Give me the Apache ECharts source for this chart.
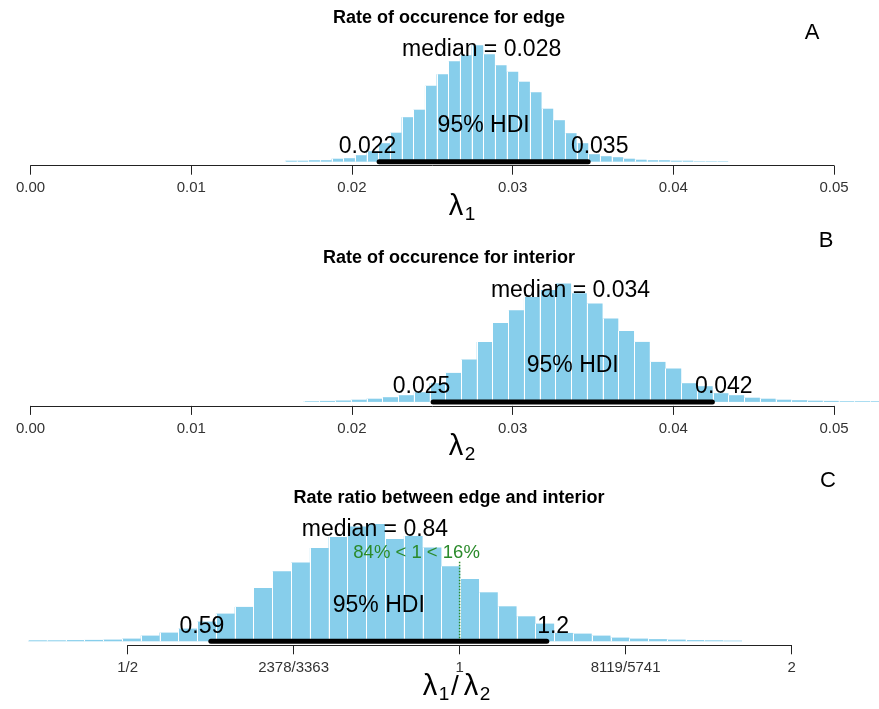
<!DOCTYPE html>
<html>
<head>
<meta charset="utf-8">
<script src="https://cdn.jsdelivr.net/npm/echarts/dist/echarts.min.js"></script>
<style>
  html, body { margin: 0; padding: 0; background: #fff; }
  #chart { width: 879px; height: 709px; }
</style>
</head>
<body>
<div id="chart"></div>
<script>
// ---- Posterior of the occurrence rate at the edge (lambda 1) ----
const edgeBinStart = 0.015828;
const edgeBinWidth = 0.000726;
const edgeHeights = [1, 1, 1.5, 1.5, 3, 3.5, 6.5, 10.5, 18.5, 29, 44.5, 52, 76, 87.5, 100.5, 106.5,
  116.5, 107.5, 96.5, 90, 80, 69.5, 53, 41.5, 28.5, 18.5, 7.5, 5.5, 4.5, 3, 2, 1.5, 1.5, 1, 1, 0.5, 0.5, 0.5];
const edgeMedian = 0.02807;
const edgeHdi = [0.02169, 0.0347];

// ---- Posterior of the occurrence rate in the interior (lambda 2) ----
const interiorBinStart = 0.016996;
const interiorBinWidth = 0.000979;
const interiorHeights = [0.7, 1, 1.4, 2.2, 3.2, 4.7, 6.7, 9.7, 18.7, 29, 42.4, 60, 79, 91.7, 105, 112,
  118.4, 108.7, 98.4, 83.4, 71, 60, 40, 33.4, 18.7, 15.7, 8.7, 6.7, 4.2, 3.2, 2.2, 1.7, 1.2, 1, 0.7, 0.7, 0.7];
const interiorMedian = 0.0336;
const interiorHdi = [0.02505, 0.04243];

// ---- Posterior of the rate ratio lambda1 / lambda2 (bins on a log2 scale) ----
const ratioBinStartLog2 = -1.3;
const ratioBinWidthLog2 = 0.0566;
const ratioHeights = [1, 1, 1.2, 1.4, 1.7, 2.7, 5.7, 8.7, 12.7, 19.7, 27.7, 34.4, 53.4, 70, 78.7, 93.2,
  104.4, 114.7, 117.2, 102.4, 105.2, 93.7, 75, 62.4, 49, 35, 25, 17.7, 8.4, 7.7, 5.7, 3.7, 2.7, 2.2, 1.7, 1.2, 1, 0.7];
const ratioMedian = 0.838;
const ratioHdi = [0.5949, 1.1996];
const ratioCompValue = 1;
const ratioPctBelow = 84;

// ---- Axes and labels ----
const rateTicks = [0, 0.01, 0.02, 0.03, 0.04, 0.05];
const ratioTicks = [0.5, 0.70711, 1, 1.41421, 2];
const ratioTickLabels = ['1/2', '2378/3363', '1', '8119/5741', '2'];
const panelTitles = ['Rate of occurence for edge', 'Rate of occurence for interior', 'Rate ratio between edge and interior'];
const panelLetters = ['A', 'B', 'C'];

const FONT = '"Liberation Sans", Arial, Helvetica, sans-serif';
const BAR_COLOR = '#87CEEB';
const COMP_COLOR = '#2a8a2a';

// text heights above the histogram baseline (y units)
const MEDIAN_Y = 111.7, HDI_TEXT_Y = 35.8, HDI_VAL_Y = 15, COMP_TEXT_Y = 88.5, COMP_LINE_TOP = 80;

const measureCtx = document.createElement('canvas').getContext('2d');
function textWidth(text, font) { measureCtx.font = font; return measureCtx.measureText(text).width; }
function sig2(v) { return String(Number(v.toPrecision(2))); }

function histSeries(idx, start, width, heights) {
  return {
    type: 'custom', xAxisIndex: idx, yAxisIndex: idx, z: 1, silent: true, clip: false,
    encode: { x: [0, 1], y: 2 },
    data: heights.map((h, i) => [start + i * width, start + (i + 1) * width, h]),
    renderItem: (params, api) => {
      const p0 = api.coord([api.value(0), 0]);
      const p1 = api.coord([api.value(1), api.value(2)]);
      const xl = Math.round(p0[0]) + 0.5;
      return {
        type: 'group',
        children: [
          { type: 'rect', shape: { x: p0[0], y: p1[1], width: p1[0] - p0[0], height: p0[1] - p1[1] },
            style: { fill: BAR_COLOR } },
          { type: 'line', shape: { x1: xl, y1: p0[1], x2: xl, y2: p1[1] },
            style: { stroke: '#ffffff', lineWidth: 1 } }
        ]
      };
    }
  };
}

function hdiSeries(idx, lo, hi) {
  return {
    type: 'line', xAxisIndex: idx, yAxisIndex: idx, z: 5, silent: true, symbol: 'none',
    data: [[lo, 0], [hi, 0]],
    lineStyle: { color: '#000', width: 5, cap: 'round' }
  };
}

function annotationSeries(idx, items) {
  return {
    type: 'custom', xAxisIndex: idx, yAxisIndex: idx, z: 10, silent: true, clip: false,
    encode: { x: 0, y: 1 },
    data: items.map(d => [d.x, d.y]),
    renderItem: (params, api) => {
      const d = items[params.dataIndex];
      const p = api.coord([api.value(0), api.value(1)]);
      const font = `${d.size}px ${FONT}`;
      const w = textWidth(d.text, font);
      return {
        type: 'text', x: p[0] - d.adj * w, y: p[1],
        style: { text: d.text, font: font, fill: d.color || '#000', align: 'left', verticalAlign: 'middle' }
      };
    }
  };
}

// median, "95% HDI" and HDI end labels; HDI ends are anchored at 70% / 30% of the label width
function posteriorLabels(median, lo, hi) {
  return [
    { x: median.x, y: MEDIAN_Y, text: 'median = ' + sig2(median.raw), adj: 0.5, size: 23 },
    { x: (lo.x + hi.x) / 2, y: HDI_TEXT_Y, text: '95% HDI', adj: 0.5, size: 23 },
    { x: lo.x, y: HDI_VAL_Y, text: sig2(lo.raw), adj: 0.7, size: 23 },
    { x: hi.x, y: HDI_VAL_Y, text: sig2(hi.raw), adj: 0.3, size: 23 }
  ];
}

function pt(raw, toX) { return { raw: raw, x: toX(raw) }; }
const ident = v => v;
const log2 = v => Math.log2(v);

const grids = [
  { left: 30.6, top: 45.7, width: 803.4, height: 120 },
  { left: 30.6, top: 285.9, width: 803.4, height: 120 },
  { left: 127.6, top: 525.3, width: 664, height: 120 }
];

function rateAxis(idx) {
  return {
    gridIndex: idx, type: 'value', min: rateTicks[0], max: rateTicks[rateTicks.length - 1], interval: 0.01,
    axisLine: { onZero: false, lineStyle: { color: '#222', width: 1 } },
    axisTick: { length: 9, lineStyle: { color: '#222' } },
    axisLabel: { margin: 15, fontSize: 15, color: '#333', fontFamily: FONT, formatter: v => v.toFixed(2) },
    splitLine: { show: false }
  };
}

const ratioAxis = {
  gridIndex: 2, type: 'value', min: Math.log2(ratioTicks[0]), max: Math.log2(ratioTicks[4]), interval: 0.5,
  axisLine: { onZero: false, lineStyle: { color: '#222', width: 1 } },
  axisTick: { length: 9, lineStyle: { color: '#222' } },
  axisLabel: {
    margin: 15, fontSize: 15, color: '#333', fontFamily: FONT,
    formatter: v => {
      const i = ratioTicks.findIndex(t => Math.abs(Math.log2(t) - v) < 1e-3);
      return i >= 0 ? ratioTickLabels[i] : '';
    }
  },
  splitLine: { show: false }
};

const yAxes = [0, 1, 2].map(i => ({ gridIndex: i, type: 'value', min: -4, max: 116, show: false }));

const edgeLabels = posteriorLabels(pt(edgeMedian, ident), pt(edgeHdi[0], ident), pt(edgeHdi[1], ident));
const interiorLabels = posteriorLabels(pt(interiorMedian, ident), pt(interiorHdi[0], ident), pt(interiorHdi[1], ident));
const ratioLabels = posteriorLabels(pt(ratioMedian, log2), pt(ratioHdi[0], log2), pt(ratioHdi[1], log2));
ratioLabels.push({
  x: log2(ratioCompValue), y: COMP_TEXT_Y, adj: ratioPctBelow / 100, size: 18.5, color: COMP_COLOR,
  text: `${ratioPctBelow}% < ${ratioCompValue} < ${100 - ratioPctBelow}%`
});

// titles, panel letters and axis names
const titleY = [18, 258, 498];
const graphics = [];
panelTitles.forEach((t, i) => graphics.push({
  type: 'text', x: 449, y: titleY[i],
  style: { text: t, font: `bold 18px ${FONT}`, fill: '#000', align: 'center', verticalAlign: 'middle' }
}));
const letterPos = [[812, 33], [826, 241], [828, 481]];
panelLetters.forEach((t, i) => graphics.push({
  type: 'text', x: letterPos[i][0], y: letterPos[i][1],
  style: { text: t, font: `22px ${FONT}`, fill: '#000', align: 'center', verticalAlign: 'middle' }
}));
function lambdaName(x, y, sub) {
  graphics.push({ type: 'text', x: x, y: y,
    style: { text: 'λ', font: `29px ${FONT}`, fill: '#000', align: 'center', verticalAlign: 'middle' } });
  graphics.push({ type: 'text', x: x + 14, y: y + 8,
    style: { text: sub, font: `19px ${FONT}`, fill: '#000', align: 'center', verticalAlign: 'middle' } });
}
lambdaName(456, 207, '1');
lambdaName(456, 447, '2');
lambdaName(430, 687, '1');
graphics.push({ type: 'text', x: 455, y: 687,
  style: { text: '/', font: `28px ${FONT}`, fill: '#000', align: 'center', verticalAlign: 'middle' } });
lambdaName(471, 687, '2');

const option = {
  animation: false,
  backgroundColor: '#ffffff',
  grid: grids,
  xAxis: [rateAxis(0), rateAxis(1), ratioAxis],
  yAxis: yAxes,
  graphic: graphics,
  series: [
    histSeries(0, edgeBinStart, edgeBinWidth, edgeHeights),
    hdiSeries(0, edgeHdi[0], edgeHdi[1]),
    annotationSeries(0, edgeLabels),

    histSeries(1, interiorBinStart, interiorBinWidth, interiorHeights),
    hdiSeries(1, interiorHdi[0], interiorHdi[1]),
    annotationSeries(1, interiorLabels),

    histSeries(2, ratioBinStartLog2, ratioBinWidthLog2, ratioHeights),
    hdiSeries(2, log2(ratioHdi[0]), log2(ratioHdi[1])),
    {
      type: 'line', xAxisIndex: 2, yAxisIndex: 2, z: 4, silent: true, symbol: 'none',
      data: [[log2(ratioCompValue), 0], [log2(ratioCompValue), COMP_LINE_TOP]],
      lineStyle: { color: COMP_COLOR, width: 1.5, type: 'dotted' }
    },
    annotationSeries(2, ratioLabels)
  ]
};

const chart = echarts.init(document.getElementById('chart'), null, { renderer: 'canvas' });
chart.setOption(option);
</script>
</body>
</html>
